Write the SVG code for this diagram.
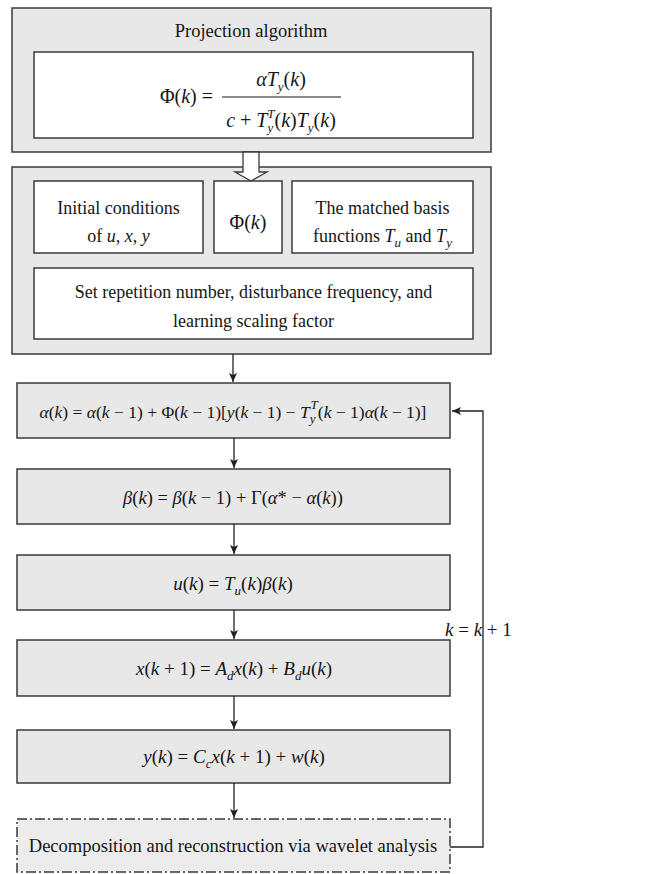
<svg xmlns="http://www.w3.org/2000/svg" width="672" height="874" viewBox="0 0 672 874">
<defs>
<marker id="ah" markerWidth="10" markerHeight="10" refX="9" refY="5" orient="auto" markerUnits="userSpaceOnUse">
<path d="M0,1 L9,5 L0,9 L2,5 Z" fill="#222"/>
</marker>
<style>
.g{fill:#e8e8e8;stroke:#3a3a3a;stroke-width:1.5}
.w{fill:#ffffff;stroke:#3a3a3a;stroke-width:1.5}
.d{fill:#ececec;stroke:#3a3a3a;stroke-width:1.5;stroke-dasharray:10 3 2 3}
text{font-family:"Liberation Serif","Times New Roman",serif;fill:#151515}
.c{text-anchor:middle}
.i{font-style:italic}
.s{font-size:13px}
.ln{fill:none;stroke:#222;stroke-width:1.3}
</style>
</defs>

<g id="projection">
<rect class="g" x="12" y="8" width="479" height="144"/>
<text class="c" x="251" y="37" font-size="18.5">Projection algorithm</text>
<rect class="w" x="34" y="52" width="439" height="86"/>
<text x="213" y="103" font-size="20" text-anchor="end">Φ(<tspan class="i">k</tspan>) =</text>
<line x1="222" y1="97" x2="341" y2="97" stroke="#151515" stroke-width="1.2"/>
<text class="c" x="281" y="86" font-size="20"><tspan class="i">αT</tspan><tspan class="i s" dy="5">y</tspan><tspan dy="-5">(</tspan><tspan class="i">k</tspan>)</text>
<text class="c" x="281" y="127" font-size="20"><tspan class="i">c</tspan> + <tspan class="i">T</tspan><tspan class="i s" dy="5">y</tspan><tspan class="i s" dx="-6" dy="-14">T</tspan><tspan dy="9">(</tspan><tspan class="i">k</tspan>)<tspan class="i">T</tspan><tspan class="i s" dy="5">y</tspan><tspan dy="-5">(</tspan><tspan class="i">k</tspan>)</text>
</g>

<g id="setup">
<rect class="g" x="12" y="167" width="479" height="187"/>
<rect class="w" x="34" y="181" width="169" height="72"/>
<text class="c" x="118.5" y="214" font-size="18">Initial conditions</text>
<text class="c" x="118.5" y="242" font-size="18">of <tspan class="i">u</tspan>, <tspan class="i">x</tspan>, <tspan class="i">y</tspan></text>
<rect class="w" x="214" y="181" width="68" height="72"/>
<text class="c" x="248" y="229" font-size="20">Φ(<tspan class="i">k</tspan>)</text>
<rect class="w" x="292" y="181" width="181" height="72"/>
<text class="c" x="382.5" y="214" font-size="18">The matched basis</text>
<text class="c" x="382.5" y="242" font-size="18">functions <tspan class="i">T</tspan><tspan class="i s" dy="5">u</tspan><tspan dy="-5"> and </tspan><tspan class="i">T</tspan><tspan class="i s" dy="5">y</tspan></text>
<rect class="w" x="34" y="268" width="439" height="71"/>
<text class="c" x="253.5" y="298" font-size="18">Set repetition number, disturbance frequency, and</text>
<text class="c" x="253.5" y="327" font-size="18">learning scaling factor</text>
</g>

<g id="alpha">
<rect class="g" x="17" y="383" width="433" height="55"/>
<text class="c" x="233" y="418" font-size="17.5"><tspan class="i">α</tspan>(<tspan class="i">k</tspan>) = <tspan class="i">α</tspan>(<tspan class="i">k</tspan> − 1) + Φ(<tspan class="i">k</tspan> − 1)[<tspan class="i">y</tspan>(<tspan class="i">k</tspan> − 1) − <tspan class="i">T</tspan><tspan class="i s" dy="5">y</tspan><tspan class="i s" dx="-5" dy="-14">T</tspan><tspan dy="9">(</tspan><tspan class="i">k</tspan> − 1)<tspan class="i">α</tspan>(<tspan class="i">k</tspan> − 1)]</text>
</g>

<g id="beta">
<rect class="g" x="17" y="469" width="433" height="55"/>
<text class="c" x="233" y="504" font-size="18.5"><tspan class="i">β</tspan>(<tspan class="i">k</tspan>) = <tspan class="i">β</tspan>(<tspan class="i">k</tspan> − 1) + Γ(<tspan class="i">α</tspan>* − <tspan class="i">α</tspan>(<tspan class="i">k</tspan>))</text>
</g>

<g id="u">
<rect class="g" x="17" y="555" width="433" height="55"/>
<text class="c" x="233" y="590" font-size="19"><tspan class="i">u</tspan>(<tspan class="i">k</tspan>) = <tspan class="i">T</tspan><tspan class="i s" dy="5">u</tspan><tspan dy="-5">(</tspan><tspan class="i">k</tspan>)<tspan class="i">β</tspan>(<tspan class="i">k</tspan>)</text>
</g>

<g id="x">
<rect class="g" x="17" y="640" width="433" height="56"/>
<text class="c" x="234" y="675" font-size="19"><tspan class="i">x</tspan>(<tspan class="i">k</tspan> + 1) = <tspan class="i">A</tspan><tspan class="i s" dy="5">d</tspan><tspan class="i" dy="-5">x</tspan>(<tspan class="i">k</tspan>) + <tspan class="i">B</tspan><tspan class="i s" dy="5">d</tspan><tspan class="i" dy="-5">u</tspan>(<tspan class="i">k</tspan>)</text>
</g>

<g id="y">
<rect class="g" x="17" y="730" width="433" height="53"/>
<text class="c" x="234" y="763" font-size="19"><tspan class="i">y</tspan>(<tspan class="i">k</tspan>) = <tspan class="i">C</tspan><tspan class="i s" dy="5">c</tspan><tspan class="i" dy="-5">x</tspan>(<tspan class="i">k</tspan> + 1) + <tspan class="i">w</tspan>(<tspan class="i">k</tspan>)</text>
</g>

<g id="wavelet">
<rect class="d" x="17" y="819" width="433" height="53"/>
<text class="c" x="233" y="852" font-size="18.5">Decomposition and reconstruction via wavelet analysis</text>
</g>

<g id="connectors">
<polygon points="243,152 259,152 259,172 267,172 251,181 235,172 243,172" fill="#ffffff" stroke="#3a3a3a" stroke-width="1.3"/>
<line class="ln" x1="233" y1="354" x2="233" y2="382" marker-end="url(#ah)"/>
<line class="ln" x1="234" y1="438" x2="234" y2="468" marker-end="url(#ah)"/>
<line class="ln" x1="234" y1="524" x2="234" y2="554" marker-end="url(#ah)"/>
<line class="ln" x1="234" y1="610" x2="234" y2="639" marker-end="url(#ah)"/>
<line class="ln" x1="234" y1="696" x2="234" y2="729" marker-end="url(#ah)"/>
<line class="ln" x1="234" y1="783" x2="234" y2="818" marker-end="url(#ah)"/>
<path class="ln" d="M450,847 H483 V411 H452" marker-end="url(#ah)"/>
<text x="445" y="636" font-size="19"><tspan class="i">k</tspan> = <tspan class="i">k</tspan> + 1</text>
</g>
</svg>
